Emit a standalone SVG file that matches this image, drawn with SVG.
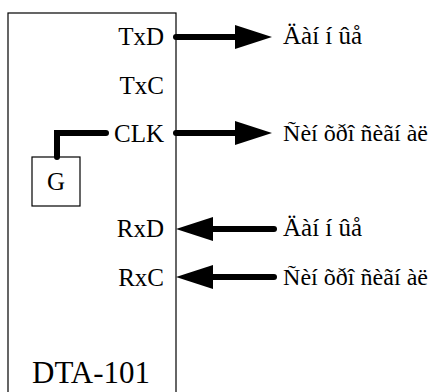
<svg xmlns="http://www.w3.org/2000/svg" width="432" height="392" viewBox="0 0 432 392">
<style>
text{font-family:"Liberation Serif","Times New Roman",serif;font-size:25px;fill:#000}
.pin{text-anchor:end}
.lng{font-size:23.5px}
.w{stroke:#000;stroke-width:6;stroke-linecap:round;fill:none}
.box{fill:#fff;stroke:#000;stroke-width:1.2}
</style>
<defs>
<polygon id="ah" points="0,-12 37,0 0,12" fill="#000"/>
</defs>
<g id="dta101">
<rect class="box" x="8" y="13" width="168" height="390"/>
<text x="32" y="383" style="font-size:31px">DTA-101</text>
<text class="pin" x="164" y="45">TxD</text>
<text class="pin" x="164" y="94">TxC</text>
<text class="pin" x="164" y="142">CLK</text>
<text class="pin" x="164" y="237">RxD</text>
<text class="pin" x="164" y="286">RxC</text>
</g>
<g id="gen">
<rect class="box" x="32" y="157" width="48" height="49"/>
<text x="56" y="190" text-anchor="middle">G</text>
</g>
<g id="connectors">
<path class="w" d="M57,157 V133 H106"/>
<line class="w" x1="176" y1="37" x2="236" y2="37"/>
<use href="#ah" x="235" y="37"/>
<line class="w" x1="176" y1="133" x2="236" y2="133"/>
<use href="#ah" x="235" y="133"/>
<line class="w" x1="213" y1="229" x2="274" y2="229"/>
<use href="#ah" transform="translate(176,229) scale(-1,1) translate(-37,0)"/>
<line class="w" x1="213" y1="277" x2="274" y2="277"/>
<use href="#ah" transform="translate(176,277) scale(-1,1) translate(-37,0)"/>
</g>
<g id="labels">
<text x="283" y="44">Äàí í ûå</text>
<text class="lng" x="283" y="141" textLength="145" lengthAdjust="spacingAndGlyphs">Ñèí õðî ñèãí àë</text>
<text x="283" y="236">Äàí í ûå</text>
<text class="lng" x="283" y="285" textLength="145" lengthAdjust="spacingAndGlyphs">Ñèí õðî ñèãí àë</text>
</g>
</svg>
